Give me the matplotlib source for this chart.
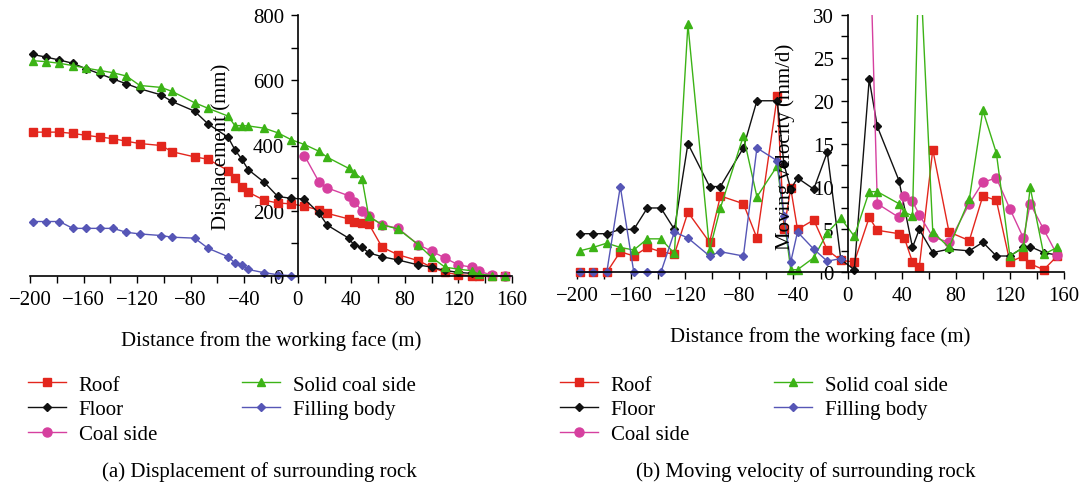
import numpy as np
import matplotlib
matplotlib.use("Agg")
import matplotlib.pyplot as plt
from matplotlib.ticker import MultipleLocator
from matplotlib.patches import Rectangle

plt.rcParams['font.family'] = ['Liberation Serif', 'DejaVu Serif']
plt.rcParams['font.size'] = 15

# distances (m) ahead of / behind the working face
x_before = [-198, -188, -178, -168, -158, -148, -138, -128, -118, -102, -94, -77, -67,
            -52, -47, -42, -37, -25, -15, -5]
x_after = [5, 16, 22, 38, 42, 48, 53, 63, 75, 90, 100, 110, 120, 130, 135, 145, 155]

# (a) displacement (mm)
roof_disp = [441, 441, 441, 437, 431, 426, 421, 413, 406, 400, 381, 365, 358, 323, 301, 272, 257, 232, 224, 221,
             214, 202, 192, 175, 167, 163, 160, 88, 65, 47, 27, 11, 4, 1, 0, 0, 0]
floor_disp = [679, 671, 662, 652, 635, 620, 604, 589, 574, 555, 535, 505, 466, 425, 387, 359, 326, 287, 244, 238,
              236, 192, 156, 116, 95, 88, 71, 59, 49, 34, 27, 17, 11, 8, 5, 1, 0]
coal_disp = [369, 287, 270, 246, 228, 200, 183, 157, 146, 96, 76, 55, 34, 27, 16, 2, 0]
solid_disp = [660, 657, 652, 645, 637, 630, 623, 613, 584, 578, 566, 531, 514, 490, 461, 461, 460, 453, 439, 418,
              403, 382, 364, 330, 316, 298, 183, 157, 144, 96, 57, 27, 21, 16, 6, 1, 0]
fill_disp = [167, 167, 167, 146, 146, 146, 146, 134, 129, 124, 119, 116, 85, 59, 40, 35, 20, 10, 4, 1]

# (b) moving velocity (mm/d)
roof_vel = [0, 0, 0, 2.4, 1.9, 2.9, 2.4, 2.1, 7.0, 3.5, 8.9, 8.0, 4.0, 20.5, 5.0, 9.8, 5.0, 6.1, 2.6, 1.4,
            1.2, 6.4, 4.9, 4.5, 4.0, 1.2, 0.6, 14.3, 4.7, 3.7, 8.9, 8.4, 1.2, 1.9, 1.0, 0.3, 1.9]
floor_x = x_before + [5, 16, 22, 38, 48, 53, 63, 75, 90, 100, 110, 120, 130, 135, 145, 155]
floor_vel = [4.5, 4.5, 4.5, 5.0, 5.0, 7.5, 7.5, 5.0, 15.0, 10.0, 10.0, 14.5, 20.0, 20.0, 12.6, 9.7, 11.0, 9.7, 14.0, 1.5,
             0.3, 22.5, 17.0, 10.7, 2.9, 5.0, 2.3, 2.7, 2.5, 3.5, 1.9, 1.9, 2.9, 3.0, 2.3, 2.0]
coal_x = [16, 22, 38, 42, 48, 53, 63, 75, 90, 100, 110, 120, 130, 135, 145, 155]
coal_vel = [42, 8.0, 6.4, 8.9, 8.3, 6.7, 4.1, 3.5, 8.0, 10.5, 11.0, 7.4, 4.0, 8.0, 5.0, 2.0]
solid_x = [-198, -188, -178, -168, -158, -148, -138, -128, -118, -102, -94, -77, -67, -52, -42, -37, -25, -15, -5] + x_after
solid_vel = [2.5, 2.9, 3.4, 2.9, 2.6, 3.9, 3.9, 2.2, 28.9, 2.6, 7.5, 15.9, 8.8, 12.4, 0.3, 0.3, 1.7, 4.6, 6.3,
             4.2, 9.4, 9.4, 8.0, 7.0, 6.6, 38, 4.7, 2.9, 8.5, 18.9, 13.9, 1.9, 2.9, 9.9, 2.1, 2.9]
fill_vel = [0, 0, 0, 10.0, 0, 0, 0, 4.7, 4.0, 1.9, 2.4, 1.9, 14.5, 13.0, 6.6, 1.2, 4.7, 2.7, 1.3, 1.6]

labels = ['Roof', 'Floor', 'Coal side', 'Solid coal side', 'Filling body']
colors = ['#e3261d', '#111111', '#d6409f', '#3cb316', '#5656b6']
markers = ['s', 'D', 'o', '^', 'D']
msizes = [6, 3.6, 6.5, 6, 4]

fig = plt.figure(figsize=(10.87, 4.89), dpi=100)
ax1 = fig.add_axes([30 / 1087, 1 - 277 / 489, 482 / 1087, 261 / 489])
ax2 = fig.add_axes([577 / 1087, 1 - 273.3 / 489, 487 / 1087, 257.3 / 489])

series_a = [(x_before + x_after, roof_disp), (x_before + x_after, floor_disp), (x_after, coal_disp),
            (x_before + x_after, solid_disp), (x_before, fill_disp)]
series_b = [(x_before + x_after, roof_vel), (floor_x, floor_vel), (coal_x, coal_vel),
            (solid_x, solid_vel), (x_before, fill_vel)]

handles = []
for i in range(5):
    x, y = series_a[i]
    h, = ax1.plot(x, y, color=colors[i], marker=markers[i], markersize=msizes[i], lw=1,
                  clip_on=False, label=labels[i])
    handles.append(h)

clip = Rectangle((-260, -5), 480, 35, transform=ax2.transData)
for i in range(5):
    x, y = series_b[i]
    ln, = ax2.plot(x, y, color=colors[i], marker=markers[i], markersize=msizes[i], lw=1)
    ln.set_clip_path(clip)

ax1.set_ylim(0, 800)
ax1.yaxis.set_major_locator(MultipleLocator(200))
ax1.yaxis.set_minor_locator(MultipleLocator(100))
ax1.text(-57, 400, 'Displacement (mm)', rotation=90, ha='center', va='center')

ax2.set_ylim(0, 30)
ax2.yaxis.set_major_locator(MultipleLocator(5))
ax2.yaxis.set_minor_locator(MultipleLocator(2.5))
ax2.text(-46, 14.7, 'Moving velocity (mm/d)', rotation=90, ha='center', va='center')

for ax in (ax1, ax2):
    ax.set_xlim(-200, 160)
    ax.xaxis.set_major_locator(MultipleLocator(40))
    ax.xaxis.set_minor_locator(MultipleLocator(20))
    ax.spines['top'].set_visible(False)
    ax.spines['right'].set_visible(False)
    ax.spines['left'].set_position(('data', 0))
    ax.spines['left'].set_linewidth(1.2)
    ax.spines['bottom'].set_linewidth(1.2)
    ax.tick_params(which='both', direction='out', length=5, width=1, labelsize=15, pad=5)
    ax.set_xlabel('Distance from the working face (m)', fontsize=15, labelpad=15)
    ax.patch.set_visible(False)

leg_kw = dict(ncol=2, frameon=False, fontsize=15, handlelength=1.8, handletextpad=0.63,
              labelspacing=0.25, columnspacing=4.1, borderpad=0, borderaxespad=0,
              loc='upper left', bbox_transform=fig.transFigure)
fig.legend(handles=handles, bbox_to_anchor=(28 / 1087, 1 - 376 / 489), **leg_kw)
fig.legend(handles=handles, bbox_to_anchor=(560 / 1087, 1 - 376 / 489), **leg_kw)

fig.text(259 / 1087, 1 - 472 / 489, '(a) Displacement of surrounding rock', ha='center', va='center', fontsize=15)
fig.text(806 / 1087, 1 - 472 / 489, '(b) Moving velocity of surrounding rock', ha='center', va='center', fontsize=15)

fig.savefig('out.png', dpi=100)
